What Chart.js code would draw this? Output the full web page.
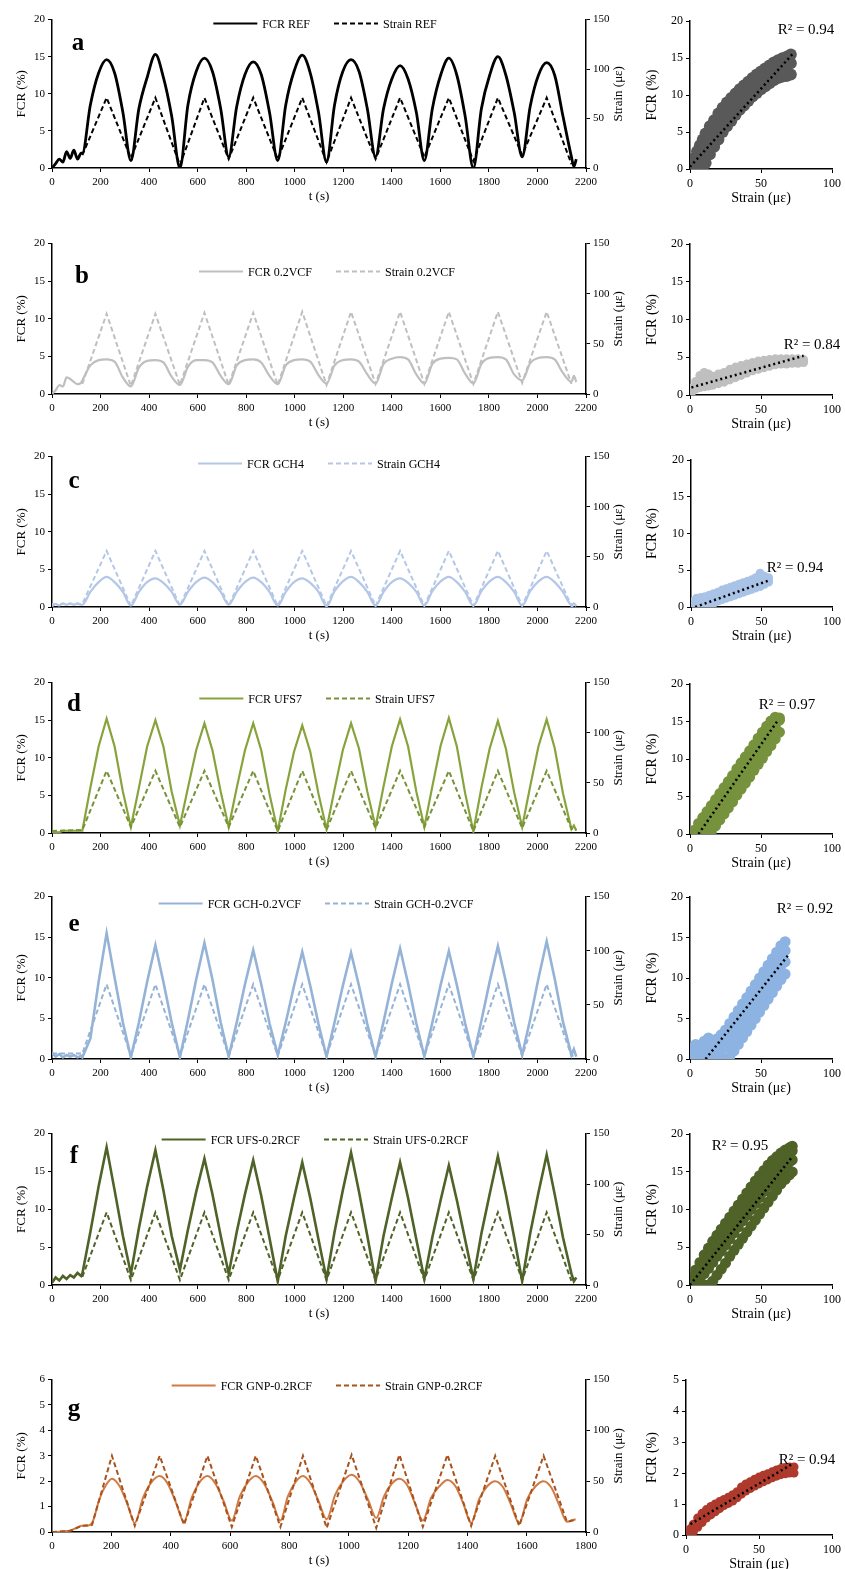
<!DOCTYPE html>
<html>
<head>
<meta charset="utf-8">
<script src="https://cdn.jsdelivr.net/npm/chart.js@4.4.1/dist/chart.umd.min.js"></script>
<style>
  body { margin: 0; background: #fff; width: 845px; height: 1569px; position: relative; overflow: hidden; }
  canvas { position: absolute; }
</style>
</head>
<body>
<script>
// ---- time axes (s) ----
const tFcr = [0, 15, 30, 45, 60, 75, 90, 105, 120,
  125, 158, 192, 225, 258, 292,
  325, 358, 392, 426, 459, 493,
  527, 560, 594, 628, 661, 695,
  728, 761, 795, 829, 862, 896,
  930, 963, 997, 1031, 1064, 1098,
  1131, 1164, 1198, 1232, 1265, 1299,
  1333, 1366, 1400, 1434, 1467, 1501,
  1534, 1567, 1601, 1635, 1668, 1702,
  1736, 1769, 1803, 1837, 1870, 1904,
  1937, 1970, 2004, 2038, 2071, 2105,
  2140, 2150, 2160];
const tStrain = [0, 125, 225, 325, 426, 527, 628, 728, 829, 930, 1031, 1131, 1232, 1333, 1434, 1534, 1635, 1736, 1837, 1937, 2038, 2140, 2160];

// ---- FCR (%) series ----
const fcrREF = [0, 0.6, 1.2, 0.8, 2.2, 1.3, 2.4, 1.2, 2.0,
  2.0, 8.5, 12.8, 14.6, 12.8, 7.5,
  1.0, 8.0, 12.2, 15.3, 12.2, 7.0,
  0.0, 8.5, 13.0, 14.8, 13.0, 8.0,
  1.5, 8.3, 12.6, 14.3, 12.6, 7.5,
  1.0, 8.5, 13.0, 15.2, 12.8, 7.5,
  0.8, 8.5, 13.0, 14.6, 13.0, 8.0,
  1.5, 8.0, 12.0, 13.8, 12.0, 7.5,
  1.0, 8.0, 12.5, 14.8, 12.5, 7.0,
  0.0, 8.0, 12.5, 15.0, 12.5, 7.5,
  1.5, 8.3, 12.5, 14.2, 12.5, 7.0,
  1.5, 0.2, 1.2];
const fcrVCF = [0, 0.5, 1.2, 1.0, 2.2, 2.0, 1.6, 1.3, 1.5,
  1.8, 3.8, 4.5, 4.6, 4.3, 2.2,
  1.0, 3.5, 4.4, 4.5, 4.2, 2.3,
  1.2, 3.6, 4.5, 4.5, 4.2, 2.4,
  1.3, 3.8, 4.5, 4.6, 4.2, 2.4,
  1.3, 3.8, 4.5, 4.6, 4.3, 2.5,
  1.4, 3.8, 4.5, 4.6, 4.3, 2.6,
  1.4, 4.0, 4.7, 4.9, 4.6, 2.6,
  1.4, 4.0, 4.7, 4.8, 4.6, 2.7,
  1.4, 4.0, 4.8, 4.9, 4.6, 2.6,
  1.8, 4.1, 4.8, 4.9, 4.6, 2.8,
  1.6, 2.4, 1.6];
const fcrGCH4 = [0.1, 0.4, 0.2, 0.5, 0.3, 0.5, 0.3, 0.5, 0.3,
  0.3, 2.0, 3.3, 4.0, 3.3, 2.0,
  0.2, 2.0, 3.3, 3.8, 3.2, 2.0,
  0.3, 2.0, 3.3, 3.9, 3.3, 2.0,
  0.3, 2.0, 3.3, 3.9, 3.3, 2.0,
  0.2, 2.0, 3.3, 3.8, 3.2, 2.0,
  0.1, 2.1, 3.4, 4.0, 3.3, 2.0,
  0.2, 2.0, 3.3, 3.8, 3.2, 2.0,
  0.2, 2.1, 3.4, 4.0, 3.3, 2.0,
  0.2, 2.1, 3.4, 4.0, 3.3, 2.0,
  0.2, 2.1, 3.4, 4.0, 3.3, 2.0,
  0.3, 0.5, 0.1];
const fcrUFS7 = [0, 0.1, 0.1, 0.3, 0.3, 0.3, 0.3, 0.3, 0.3,
  0.3, 6.0, 11.5, 15.2, 11.5, 5.5,
  0.8, 6.0, 11.5, 15.0, 11.5, 5.5,
  1.0, 6.0, 11.0, 14.6, 11.0, 5.5,
  0.8, 6.0, 11.0, 14.6, 11.0, 5.2,
  0.2, 5.8, 10.8, 14.3, 10.8, 5.2,
  0.5, 5.8, 11.0, 14.6, 11.2, 5.5,
  0.8, 6.2, 11.5, 15.1, 11.5, 5.5,
  0.8, 6.2, 11.6, 15.3, 11.5, 5.3,
  0.2, 6.0, 11.2, 14.9, 11.2, 5.4,
  0.8, 6.2, 11.5, 15.1, 11.3, 5.3,
  0.5, 1.0, 0.3];
const fcrGCHVCF = [0.8, 0.3, 0.6, 0.2, 0.5, 0.3, 0.5, 0.2, 0.4,
  0.2, 2.5, 9.5, 15.5, 10.0, 4.5,
  0.2, 4.5, 9.5, 14.0, 9.5, 4.5,
  0.2, 4.8, 9.8, 14.3, 9.8, 4.5,
  0.3, 4.5, 9.2, 13.4, 9.2, 4.4,
  0.5, 4.5, 9.0, 13.2, 9.0, 4.3,
  0.3, 4.5, 9.0, 13.1, 9.0, 4.3,
  0.3, 4.6, 9.3, 13.6, 9.3, 4.4,
  0.3, 4.5, 9.1, 13.3, 9.1, 4.4,
  0.3, 4.7, 9.5, 13.9, 9.5, 4.5,
  0.5, 4.9, 9.9, 14.5, 9.9, 4.6,
  0.5, 1.2, 0.3];
const fcrUFSRCF = [0.3, 1.0, 0.6, 1.2, 0.8, 1.3, 1.0, 1.6, 1.2,
  1.5, 7.0, 13.0, 18.2, 12.5, 6.5,
  1.5, 7.5, 13.0, 17.8, 12.5, 6.5,
  2.0, 7.3, 12.3, 16.7, 12.0, 6.5,
  1.5, 7.0, 12.0, 16.5, 11.8, 6.2,
  0.5, 6.5, 11.5, 16.2, 11.5, 6.0,
  0.8, 7.0, 12.5, 17.5, 12.3, 6.5,
  0.5, 6.5, 11.5, 16.2, 11.5, 6.0,
  0.8, 6.3, 11.2, 15.8, 11.2, 6.0,
  0.8, 6.8, 12.0, 17.0, 12.0, 6.3,
  0.5, 6.8, 12.2, 17.2, 12.0, 6.3,
  1.5, 0.5, 1.0];

// ---- Strain (µε) series ----
const strREF = [null, 13, 71, 10, 71, 3, 71, 9, 71, 9, 71, 6, 71, 9, 71, 11, 71, 7, 71, 13, 71, 4, null];
const strVCF = [null, 10, 80, 8, 80, 9, 81, 9, 81, 9, 82, 9, 82, 10, 82, 10, 82, 10, 82, 11, 82, 10, null];
const strGCH4 = [3, 3, 56, 1, 56, 1, 56, 1, 56, 1, 56, 1, 56, 1, 56, 1, 56, 1, 56, 1, 56, 1, 1];
const strUFS7 = [2, 3, 62, 6, 62, 6, 62, 6, 62, 2, 62, 3, 62, 5, 62, 6, 62, 2, 62, 5, 62, 4, 4];
const strGCHVCF = [5, 5, 69, 3, 69, 3, 69, 3, 69, 3, 69, 3, 69, 3, 69, 3, 69, 3, 69, 3, 69, 3, 3];
const strUFSRCF = [null, 8, 72, 5, 72, 5, 72, 5, 72, 5, 72, 5, 72, 5, 72, 5, 72, 5, 72, 5, 72, 4, null];

// ---- panel g (0-1800 s) ----
const gT = [0, 20, 40, 60, 80, 100, 120,
  135, 160, 182, 202, 228, 254,
  279, 307, 335, 363, 390, 418,
  445, 471, 497, 524, 551, 579,
  606, 633, 660, 687, 715, 743,
  770, 795, 820, 846, 872, 899,
  926, 954, 982, 1010, 1038, 1066,
  1093, 1119, 1145, 1171, 1197, 1223,
  1250, 1278, 1306, 1333, 1360, 1387,
  1413, 1440, 1467, 1494, 1521, 1548,
  1575, 1602, 1630, 1657, 1683, 1710,
  1736, 1750, 1765];
const fcrGNP = [0, 0, 0.03, 0.05, 0.15, 0.25, 0.25,
  0.35, 1.3, 1.85, 2.1, 1.8, 1.1,
  0.35, 1.35, 1.95, 2.2, 1.9, 1.15,
  0.4, 1.35, 1.95, 2.2, 1.9, 1.2,
  0.45, 1.4, 1.95, 2.2, 1.9, 1.2,
  0.45, 1.4, 1.95, 2.2, 1.9, 1.2,
  0.5, 1.45, 2.0, 2.25, 1.95, 1.25,
  0.55, 1.4, 1.9, 2.1, 1.85, 1.15,
  0.45, 1.35, 1.8, 2.05, 1.8, 1.1,
  0.35, 1.3, 1.8, 2.0, 1.75, 1.05,
  0.35, 1.3, 1.8, 2.0, 1.75, 1.05,
  0.4, 0.45, 0.5];
const gStrainT = [0, 60, 100, 135, 202, 279, 363, 445, 524, 606, 687, 770, 846, 926, 1010, 1093, 1171, 1250, 1333, 1413, 1494, 1575, 1657, 1736, 1750, 1765];
const strGNP = [0, 1, 6, 7, 75, 6, 75, 7, 75, 5, 75, 5, 75, 4, 76, 4, 76, 5, 76, 6, 75, 6, 75, 10, 11, 12];

// ---- scatter clouds: strain positions and FCR bands ----
const saX = [1, 3, 5, 7, 9, 11, 14, 17, 20, 23, 26, 29, 32, 35, 38, 41, 44, 47, 50, 53, 56, 59, 62, 65, 68, 71];
const saLo = [0, 0, 0, 0, 0, 0.8, 2, 3, 4, 5, 5.8, 6.5, 7.3, 8, 8.6, 9.2, 9.8, 10.3, 10.8, 11.2, 11.6, 12, 12.3, 12.5, 12.6, 12.8];
const saMid = [0.3, 0.8, 1.4, 2, 2.6, 3.2, 4, 4.9, 5.8, 6.6, 7.4, 8.1, 8.8, 9.4, 10, 10.6, 11.1, 11.6, 12.1, 12.5, 12.9, 13.3, 13.6, 13.9, 14.1, 14.3];
const saHi = [0.6, 1.5, 2.4, 3.2, 4, 4.8, 5.8, 6.6, 7.5, 8.3, 9, 9.6, 10.2, 10.8, 11.3, 11.8, 12.3, 12.8, 13.2, 13.6, 14, 14.4, 14.7, 15, 15.2, 15.5];
const saTrendX = [0, 72], saTrendY = [0.3, 15.5];

const sbX = [1, 4, 7, 10, 13, 16, 20, 24, 28, 32, 36, 40, 44, 48, 52, 56, 60, 64, 68, 72, 76, 80];
const sbLo = [0.3, 0.8, 1.0, 1.1, 1.2, 1.3, 1.5, 1.7, 2.0, 2.3, 2.6, 2.9, 3.2, 3.4, 3.6, 3.8, 4.0, 4.1, 4.1, 4.2, 4.2, 4.3];
const sbMid = [0.6, 1.3, 1.7, 2.0, 2.0, 2.0, 2.2, 2.5, 2.8, 3.1, 3.3, 3.6, 3.8, 4.0, 4.1, 4.3, 4.4, 4.4, 4.5, 4.5, 4.5, 4.5];
const sbHi = [0.9, 1.8, 2.6, 3.0, 2.8, 2.5, 2.8, 3.0, 3.4, 3.7, 3.9, 4.1, 4.3, 4.5, 4.6, 4.7, 4.8, 4.8, 4.8, 4.8, 4.8, 4.7];
const sbTrendX = [1, 80], sbTrendY = [1.0, 5.2];

const scX = [1, 4, 7, 10, 13, 16, 19, 22, 25, 28, 31, 34, 37, 40, 43, 46, 49, 52, 55];
const scLo = [0, 0, 0, 0.1, 0.3, 0.5, 0.8, 1.0, 1.2, 1.4, 1.6, 1.8, 2.0, 2.2, 2.4, 2.6, 2.8, 3.1, 3.4];
const scMid = [0.3, 0.5, 0.6, 0.8, 1.0, 1.2, 1.4, 1.6, 1.8, 2.0, 2.2, 2.4, 2.6, 2.8, 3.0, 3.2, 3.4, 3.6, 3.8];
const scHi = [0.7, 1.2, 1.3, 1.4, 1.6, 1.8, 2.0, 2.3, 2.5, 2.7, 2.9, 3.1, 3.3, 3.5, 3.7, 4.0, 4.6, 4.2, 4.0];
const scTrendX = [3, 55], scTrendY = [0, 3.6];

const sdX = [3, 6, 9, 12, 15, 18, 21, 24, 27, 30, 33, 36, 39, 42, 45, 48, 51, 54, 57, 60, 63];
const sdLo = [0, 0, 0, 0, 0.3, 1.1, 1.9, 2.7, 3.5, 4.3, 5.2, 6.0, 6.8, 7.6, 8.5, 9.3, 10.1, 11.0, 11.8, 12.7, 13.6];
const sdMid = [0, 0, 0.5, 1.3, 2.1, 2.9, 3.7, 4.5, 5.4, 6.2, 7.0, 7.8, 8.6, 9.5, 10.3, 11.1, 11.9, 12.8, 13.6, 14.4, 15.2];
const sdHi = [0.5, 1.4, 2.2, 3.0, 3.8, 4.6, 5.4, 6.2, 7.0, 7.8, 8.7, 9.5, 10.3, 11.1, 11.9, 12.8, 13.6, 14.4, 15.1, 15.6, 15.5];
const sdTrendX = [6, 62], sdTrendY = [0, 15.2];

const seX = [1, 4, 7, 10, 13, 16, 19, 22, 25, 28, 31, 34, 37, 40, 43, 46, 49, 52, 55, 58, 61, 64, 67];
const seA = [0, 0, 0, 0, 0, 0, 0, 0, 0, 0.3, 1, 1.8, 2.6, 3.4, 4.2, 5, 5.8, 6.6, 7.4, 8.2, 9, 9.8, 10.5];
const seB = [0.3, 0.4, 0.3, 0.5, 0.4, 0.6, 0.8, 1.1, 1.5, 2.1, 2.8, 3.6, 4.4, 5.2, 6.0, 6.8, 7.6, 8.4, 9.2, 10.0, 10.8, 11.5, 12.0];
const seC = [0.7, 1.0, 0.8, 1.3, 1.2, 1.4, 1.7, 2.2, 2.7, 3.3, 4.0, 4.8, 5.6, 6.4, 7.2, 8.0, 8.8, 9.6, 10.4, 11.2, 12.0, 12.8, 13.4];
const seD = [1.3, 1.8, 1.5, 2.2, 2.6, 2.2, 2.5, 3.0, 3.6, 4.4, 5.2, 6.0, 6.8, 7.6, 8.4, 9.2, 10.0, 10.8, 11.6, 12.4, 13.2, 14.0, 14.5];
const seTrendX = [11, 69], seTrendY = [0, 12.8];

const sfX = [1, 4, 7, 10, 13, 16, 19, 22, 25, 28, 31, 34, 37, 40, 43, 46, 49, 52, 55, 58, 61, 64, 67, 70, 72];
const sfA = [0, 0, 0, 0, 0, 0.5, 1.3, 2.1, 2.9, 3.8, 4.6, 5.4, 6.2, 7.0, 7.8, 8.6, 9.4, 10.2, 11, 11.8, 12.6, 13.4, 14, 14.6, 15];
const sfB = [0, 0.2, 0.8, 1.5, 2.2, 3.0, 3.8, 4.5, 5.3, 6.1, 6.9, 7.7, 8.5, 9.2, 10, 10.8, 11.6, 12.4, 13.1, 13.8, 14.5, 15.2, 15.8, 16.3, 16.6];
const sfC = [0.4, 1.2, 2.0, 2.8, 3.6, 4.4, 5.2, 6.0, 6.8, 7.6, 8.4, 9.2, 10.0, 10.8, 11.6, 12.4, 13.2, 13.9, 14.6, 15.3, 16, 16.6, 17.1, 17.5, 17.8];
const sfD = [1.0, 2.0, 3.0, 4.0, 4.9, 5.8, 6.6, 7.4, 8.2, 9.0, 9.8, 10.6, 11.4, 12.2, 13, 13.8, 14.5, 15.2, 15.9, 16.5, 17, 17.5, 17.9, 18.2, 18.4];
const sfTrendX = [0, 72], sfTrendY = [0, 17];

const sgX = [1, 3, 5, 8, 11, 14, 17, 20, 23, 26, 29, 32, 35, 38, 41, 44, 47, 50, 53, 56, 59, 62, 65, 68, 71, 74];
const sgLo = [0, 0.05, 0.1, 0.25, 0.4, 0.55, 0.65, 0.75, 0.85, 0.95, 1.02, 1.1, 1.2, 1.32, 1.42, 1.5, 1.58, 1.65, 1.72, 1.78, 1.85, 1.9, 1.95, 1.98, 2.0, 2.0];
const sgHi = [0.1, 0.2, 0.35, 0.55, 0.7, 0.82, 0.92, 1.0, 1.08, 1.15, 1.22, 1.3, 1.4, 1.55, 1.65, 1.72, 1.8, 1.87, 1.93, 1.98, 2.04, 2.1, 2.15, 2.18, 2.2, 2.2];
const sgTrendX = [3, 73], sgTrendY = [0.35, 2.3];

// ---------------------------------------------------------------
Chart.defaults.font.family = '"Liberation Serif", "Times New Roman", serif';
Chart.defaults.color = '#000';
Chart.defaults.animation = false;

// legend drawn inside the plot, near its top edge
Chart.register({
  id: 'inlineLegend',
  afterDatasetsDraw(chart, args, opts) {
    if (!opts.items) return;
    const ctx = chart.ctx, a = chart.chartArea;
    ctx.save();
    ctx.font = '12px "Liberation Serif"';
    const sample = 44, gap = 5, space = 24;
    const widths = opts.items.map(i => sample + gap + ctx.measureText(chart.data.datasets[i].label).width);
    const total = widths.reduce((s, w) => s + w, 0) + space * (widths.length - 1);
    let x = (a.left + a.right) / 2 + (opts.dx || 0) - total / 2;
    const y = a.top + opts.dy;
    opts.items.forEach((di, k) => {
      const ds = chart.data.datasets[di];
      ctx.strokeStyle = ds.borderColor;
      ctx.lineWidth = 2;
      ctx.setLineDash(ds.borderDash || []);
      ctx.beginPath(); ctx.moveTo(x, y); ctx.lineTo(x + sample, y); ctx.stroke();
      ctx.setLineDash([]);
      ctx.fillStyle = '#000';
      ctx.textAlign = 'left'; ctx.textBaseline = 'middle';
      ctx.fillText(ds.label, x + sample + gap, y + 1);
      x += widths[k] + space;
    });
    ctx.restore();
  }
});

// panel letters, R² labels and the rotated secondary-axis title
Chart.register({
  id: 'notes',
  afterDraw(chart, args, opts) {
    if (!opts.items) return;
    const ctx = chart.ctx, a = chart.chartArea;
    ctx.save();
    opts.items.forEach(n => {
      const x = n.fromRight ? a.right + n.dx : a.left + n.dx;
      const y = n.mid ? (a.top + a.bottom) / 2 : a.top + n.dy;
      ctx.save();
      ctx.translate(x, y);
      if (n.rot) ctx.rotate(n.rot);
      ctx.font = n.font;
      ctx.fillStyle = '#000';
      ctx.textAlign = 'center'; ctx.textBaseline = 'middle';
      ctx.fillText(n.text, 0, 0);
      ctx.restore();
    });
    ctx.restore();
  }
});

function makeCanvas(left, top, w, h) {
  const c = document.createElement('canvas');
  c.width = w; c.height = h;
  c.style.left = left + 'px'; c.style.top = top + 'px';
  c.style.width = w + 'px'; c.style.height = h + 'px';
  document.body.appendChild(c);
  return c;
}
const pts = (xs, ys) => xs.map((x, i) => ({ x, y: ys[i] }));

function axis(min, max, step, title, titleSize, tickSize, titlePad) {
  return {
    type: 'linear', min, max,
    ticks: { stepSize: step, autoSkip: false, maxRotation: 0, padding: 3, font: { size: tickSize }, color: '#000',
      callback: v => String(v) },
    grid: { drawOnChartArea: false, tickLength: 4, color: '#000', lineWidth: 1 },
    border: { color: '#000', width: 1.5 },
    title: { display: !!title, text: title, font: { size: titleSize }, color: '#000', padding: { top: titlePad, bottom: 0 } }
  };
}

const LEFT_W = 632, PLOT_L = 52, PLOT_R = 586;

function timePanel(p) {
  const h = p.B - p.T + 8 + 36;
  const x = axis(0, p.xMax, 200, 't (s)', 13, 11, 0);
  x.afterFit = s => { s.height = 36; };
  x.ticks.padding = 4;
  const y = axis(0, p.yMax, p.yStep, 'FCR (%)', 13, 11, 14);
  y.position = 'left';
  y.afterFit = s => { s.width = PLOT_L; };
  const y2 = axis(0, 150, 50, '', 13, 11, 0);
  y2.position = 'right';
  y2.afterFit = s => { s.width = LEFT_W - PLOT_R; };
  new Chart(makeCanvas(0, p.T - 8, LEFT_W, h), {
    type: 'line',
    data: {
      datasets: [
        { label: p.fcrLabel, data: pts(p.fcrT, p.fcr), yAxisID: 'y', borderColor: p.fcrColor,
          borderWidth: p.fcrWidth, pointRadius: 0, cubicInterpolationMode: p.smooth ? 'monotone' : 'default',
          tension: p.smooth ? 0.4 : 0, order: 1 },
        { label: p.strLabel, data: pts(p.strT, p.str), yAxisID: 'y2', borderColor: p.strColor,
          borderWidth: 2, borderDash: [5, 3], pointRadius: 0, tension: 0, order: 0 }
      ]
    },
    options: {
      responsive: false,
      layout: { padding: { top: 8, left: 0, right: 0, bottom: 0 } },
      scales: { x, y, y2 },
      plugins: {
        legend: { display: false }, tooltip: { enabled: false },
        inlineLegend: { items: [0, 1], dy: p.legDy, dx: p.legDx || 0 },
        notes: { items: [
          { text: p.letter, font: 'bold 25px "Liberation Serif"', dx: p.letDx, dy: p.letDy },
          { text: 'Strain (\u03bc\u03b5)', font: '13px "Liberation Serif"', fromRight: true, dx: 33, mid: true, rot: -Math.PI / 2 }
        ] }
      }
    }
  });
}

function scatterPanel(p) {
  const left = p.axisX - 640;
  const h = p.B - p.T + 8 + 38;
  const x = axis(0, 100, 50, 'Strain (\u03bc\u03b5)', 14, 12, 0);
  x.afterFit = s => { s.height = 38; };
  x.ticks.padding = 4;
  const y = axis(0, p.yMax, p.yStep, 'FCR (%)', 14, 12, 4);
  y.afterFit = s => { s.width = left; };
  const sets = p.bands.map(b => ({
    type: 'scatter', data: pts(p.xs, b), backgroundColor: p.color, borderWidth: 0,
    pointRadius: p.r, order: 2
  }));
  sets.push({ type: 'line', data: pts(p.trendX, p.trendY), borderColor: '#000', borderWidth: 2.5,
    borderDash: [2, 3], pointRadius: 0, order: 0 });
  new Chart(makeCanvas(640, p.T - 8, 205, h), {
    type: 'scatter',
    data: { datasets: sets },
    options: {
      responsive: false,
      layout: { padding: { top: 8, left: 0, right: 845 - p.axisR, bottom: 0 } },
      scales: { x, y },
      plugins: {
        legend: { display: false }, tooltip: { enabled: false },
        notes: { items: [{ text: p.r2, font: '15px "Liberation Serif"', dx: p.r2Dx, dy: p.r2Dy }] }
      }
    }
  });
}

timePanel({ T: 18, B: 168, xMax: 2200, yMax: 20, yStep: 5, fcrT: tFcr, fcr: fcrREF, strT: tStrain, str: strREF,
  fcrLabel: 'FCR REF', strLabel: 'Strain REF', fcrColor: '#000000', strColor: '#000000', fcrWidth: 2.8, smooth: true,
  legDy: 4, legDx: 6, letter: 'a', letDx: 26, letDy: 24 });
timePanel({ T: 242, B: 394, xMax: 2200, yMax: 20, yStep: 5, fcrT: tFcr, fcr: fcrVCF, strT: tStrain, str: strVCF,
  fcrLabel: 'FCR 0.2VCF', strLabel: 'Strain 0.2VCF', fcrColor: '#bfbfbf', strColor: '#bfbfbf', fcrWidth: 2.2, smooth: true,
  legDy: 28, legDx: 8, letter: 'b', letDx: 30, letDy: 33 });
timePanel({ T: 455, B: 607, xMax: 2200, yMax: 20, yStep: 5, fcrT: tFcr, fcr: fcrGCH4, strT: tStrain, str: strGCH4,
  fcrLabel: 'FCR GCH4', strLabel: 'Strain GCH4', fcrColor: '#b4c7e7', strColor: '#b4c7e7', fcrWidth: 2.2, smooth: true,
  legDy: 7, legDx: 0, letter: 'c', letDx: 22, letDy: 25 });
timePanel({ T: 681, B: 833, xMax: 2200, yMax: 20, yStep: 5, fcrT: tFcr, fcr: fcrUFS7, strT: tStrain, str: strUFS7,
  fcrLabel: 'FCR UFS7', strLabel: 'Strain UFS7', fcrColor: '#86a33c', strColor: '#779237', fcrWidth: 2.2,
  legDy: 16, legDx: -2, letter: 'd', letDx: 22, letDy: 22 });
timePanel({ T: 895, B: 1059, xMax: 2200, yMax: 20, yStep: 5, fcrT: tFcr, fcr: fcrGCHVCF, strT: tStrain, str: strGCHVCF,
  fcrLabel: 'FCR GCH-0.2VCF', strLabel: 'Strain GCH-0.2VCF', fcrColor: '#95b3d7', strColor: '#95b3d7', fcrWidth: 2.6,
  legDy: 7, legDx: -3, letter: 'e', letDx: 22, letDy: 28 });
timePanel({ T: 1132, B: 1285, xMax: 2200, yMax: 20, yStep: 5, fcrT: tFcr, fcr: fcrUFSRCF, strT: tStrain, str: strUFSRCF,
  fcrLabel: 'FCR UFS-0.2RCF', strLabel: 'Strain UFS-0.2RCF', fcrColor: '#4f6228', strColor: '#4f6228', fcrWidth: 2.6,
  legDy: 6, legDx: -4, letter: 'f', letDx: 22, letDy: 23 });
timePanel({ T: 1378, B: 1532, xMax: 1800, yMax: 6, yStep: 1, fcrT: gT, fcr: fcrGNP, strT: gStrainT, str: strGNP,
  fcrLabel: 'FCR GNP-0.2RCF', strLabel: 'Strain GNP-0.2RCF', fcrColor: '#d07a45', strColor: '#a8521c', fcrWidth: 2, smooth: true,
  legDy: 6, legDx: 8, letter: 'g', letDx: 22, letDy: 30 });

scatterPanel({ T: 19, B: 169, axisX: 690, axisR: 834, yMax: 20, yStep: 5, xs: saX, bands: [saLo, saMid, saHi],
  color: '#595959', r: 6, trendX: saTrendX, trendY: saTrendY, r2: 'R\u00b2 = 0.94', r2Dx: 116, r2Dy: 9 });
scatterPanel({ T: 242, B: 395, axisX: 690, axisR: 834, yMax: 20, yStep: 5, xs: sbX, bands: [sbLo, sbMid, sbHi],
  color: '#bfbfbf', r: 4.5, trendX: sbTrendX, trendY: sbTrendY, r2: 'R\u00b2 = 0.84', r2Dx: 122, r2Dy: 101 });
scatterPanel({ T: 458, B: 607, axisX: 691, axisR: 834, yMax: 20, yStep: 5, xs: scX, bands: [scLo, scMid, scHi],
  color: '#a9c3e6', r: 4.5, trendX: scTrendX, trendY: scTrendY, r2: 'R\u00b2 = 0.94', r2Dx: 104, r2Dy: 108 });
scatterPanel({ T: 682, B: 834, axisX: 690, axisR: 834, yMax: 20, yStep: 5, xs: sdX, bands: [sdLo, sdMid, sdHi],
  color: '#76923c', r: 5.5, trendX: sdTrendX, trendY: sdTrendY, r2: 'R\u00b2 = 0.97', r2Dx: 97, r2Dy: 21 });
scatterPanel({ T: 895, B: 1059, axisX: 690, axisR: 834, yMax: 20, yStep: 5, xs: seX, bands: [seA, seB, seC, seD],
  color: '#8db3e2', r: 5.5, trendX: seTrendX, trendY: seTrendY, r2: 'R\u00b2 = 0.92', r2Dx: 115, r2Dy: 12 });
scatterPanel({ T: 1132, B: 1285, axisX: 690, axisR: 834, yMax: 20, yStep: 5, xs: sfX, bands: [sfA, sfB, sfC, sfD],
  color: '#4f6228', r: 5.5, trendX: sfTrendX, trendY: sfTrendY, r2: 'R\u00b2 = 0.95', r2Dx: 50, r2Dy: 12 });
scatterPanel({ T: 1378, B: 1535, axisX: 686, axisR: 833, yMax: 5, yStep: 1, xs: sgX, bands: [sgLo, sgHi],
  color: '#ad3a2c', r: 4.5, trendX: sgTrendX, trendY: sgTrendY, r2: 'R\u00b2 = 0.94', r2Dx: 121, r2Dy: 80 });
</script>
</body>
</html>
